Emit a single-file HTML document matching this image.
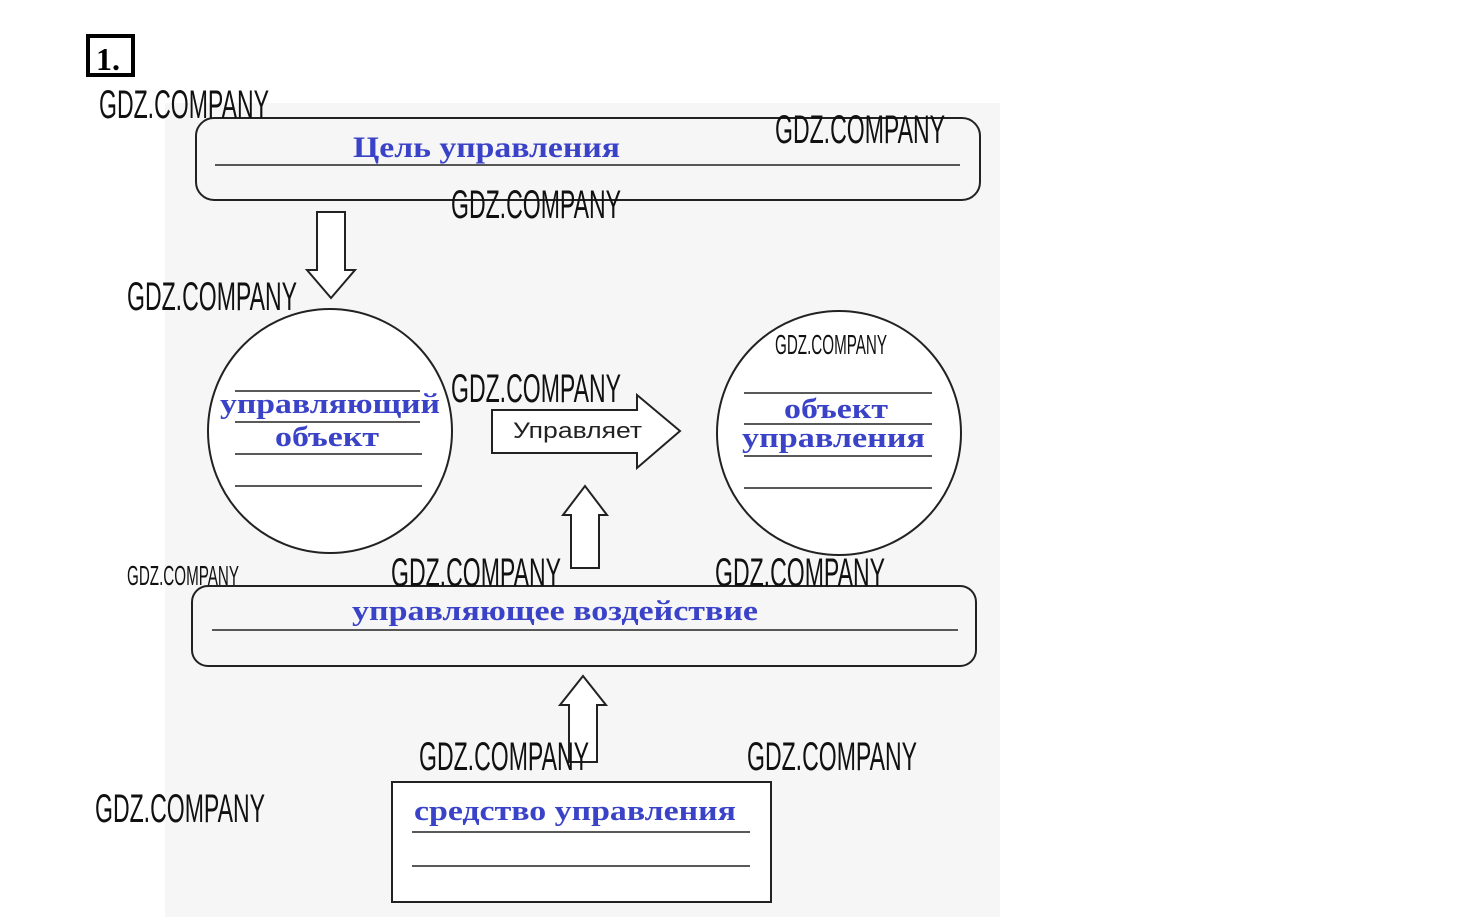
<!DOCTYPE html>
<html><head><meta charset="utf-8"><style>
html,body{margin:0;padding:0;background:#fff;}
svg{display:block;}
.wm{font-family:"Liberation Sans Narrow","Liberation Sans",sans-serif;fill:#111;font-weight:normal;}
.bl{font-family:"Liberation Serif",serif;font-weight:bold;fill:#3a43c8;}
</style></head><body>
<svg width="1460" height="917" viewBox="0 0 1460 917" xmlns="http://www.w3.org/2000/svg">
<rect x="165" y="103" width="835" height="814" fill="#f6f6f6"/>
<rect x="88" y="36" width="45" height="39" fill="#fff" stroke="#000" stroke-width="4"/>
<text x="96" y="70" font-family="Liberation Serif,serif" font-weight="bold" font-size="32">1.</text>

<g fill="none" stroke="#222" stroke-width="2">
<rect x="196" y="118" width="784" height="82" rx="18"/>
<line x1="215" y1="165" x2="960" y2="165" stroke-width="1.5"/>
<path d="M317 212 H345 V270 H355 L331 298 L307 270 H317 Z" fill="#fff"/>
<circle cx="330" cy="431" r="122" fill="#fff"/>
<line x1="235" y1="391" x2="420" y2="391" stroke-width="1.5"/>
<line x1="235" y1="422" x2="420" y2="422" stroke-width="1.5"/>
<line x1="235" y1="454" x2="422" y2="454" stroke-width="1.5"/>
<line x1="235" y1="486" x2="422" y2="486" stroke-width="1.5"/>
<path d="M492 410 H637 V395 L680 431 L637 468 V453 H492 Z" fill="#fff"/>
<circle cx="839" cy="433" r="122" fill="#fff"/>
<line x1="744" y1="393" x2="932" y2="393" stroke-width="1.5"/>
<line x1="744" y1="424" x2="932" y2="424" stroke-width="1.5"/>
<line x1="744" y1="456" x2="932" y2="456" stroke-width="1.5"/>
<line x1="744" y1="488" x2="932" y2="488" stroke-width="1.5"/>
<path d="M571 568 V515 H563 L585 486 L607 515 H599 V568 Z" fill="#fff"/>
<rect x="192" y="586" width="784" height="80" rx="16"/>
<line x1="212" y1="630" x2="958" y2="630" stroke-width="1.5"/>
<path d="M569 762 V705 H560 L583 676 L606 705 H597 V762 Z" fill="#fff"/>
<rect x="392" y="782" width="379" height="120" fill="#fff"/>
<line x1="412" y1="832" x2="750" y2="832" stroke-width="1.5"/>
<line x1="412" y1="866" x2="750" y2="866" stroke-width="1.5"/>
</g>

<text class="bl" x="353" y="157" font-size="30" textLength="267" lengthAdjust="spacingAndGlyphs">Цель управления</text>
<text class="bl" x="220" y="413" font-size="29" textLength="220" lengthAdjust="spacingAndGlyphs">управляющий</text>
<text class="bl" x="275" y="446" font-size="29" textLength="104" lengthAdjust="spacingAndGlyphs">объект</text>
<text x="513" y="438" font-family="Liberation Sans,sans-serif" font-size="22" fill="#222" textLength="129" lengthAdjust="spacingAndGlyphs">Управляет</text>
<text class="bl" x="784" y="418" font-size="29" textLength="104" lengthAdjust="spacingAndGlyphs">объект</text>
<text class="bl" x="742" y="447" font-size="29" textLength="183" lengthAdjust="spacingAndGlyphs">управления</text>
<text class="bl" x="352" y="620" font-size="28" textLength="406" lengthAdjust="spacingAndGlyphs">управляющее воздействие</text>
<text class="bl" x="414" y="820" font-size="29" textLength="322" lengthAdjust="spacingAndGlyphs">средство управления</text>

<g class="wm" font-size="40">
<text x="99" y="118" textLength="170" lengthAdjust="spacingAndGlyphs">GDZ.COMPANY</text>
<text x="775" y="143" textLength="170" lengthAdjust="spacingAndGlyphs">GDZ.COMPANY</text>
<text x="451" y="218" textLength="170" lengthAdjust="spacingAndGlyphs">GDZ.COMPANY</text>
<text x="127" y="310" textLength="170" lengthAdjust="spacingAndGlyphs">GDZ.COMPANY</text>
<text x="451" y="402" textLength="170" lengthAdjust="spacingAndGlyphs">GDZ.COMPANY</text>
<text x="391" y="586" textLength="170" lengthAdjust="spacingAndGlyphs">GDZ.COMPANY</text>
<text x="715" y="586" textLength="170" lengthAdjust="spacingAndGlyphs">GDZ.COMPANY</text>
<text x="419" y="770" textLength="170" lengthAdjust="spacingAndGlyphs">GDZ.COMPANY</text>
<text x="747" y="770" textLength="170" lengthAdjust="spacingAndGlyphs">GDZ.COMPANY</text>
<text x="95" y="822" textLength="170" lengthAdjust="spacingAndGlyphs">GDZ.COMPANY</text>
</g>
<g class="wm" font-size="28">
<text x="775" y="354" textLength="112" lengthAdjust="spacingAndGlyphs">GDZ.COMPANY</text>
<text x="127" y="585" textLength="112" lengthAdjust="spacingAndGlyphs">GDZ.COMPANY</text>
</g>
</svg>
</body></html>
